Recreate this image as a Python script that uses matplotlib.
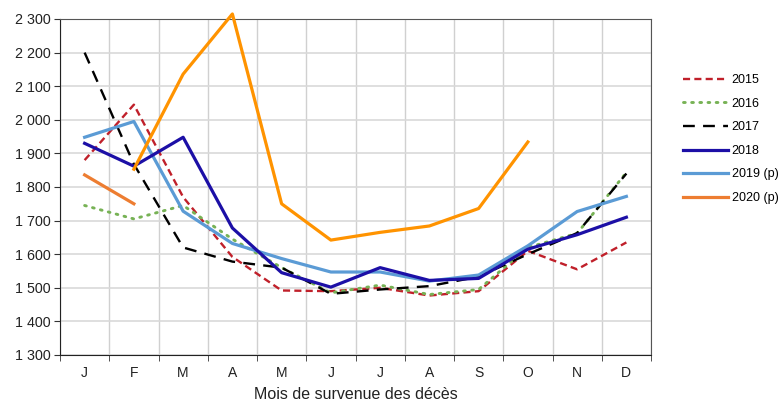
import matplotlib
matplotlib.use("Agg")
import matplotlib.pyplot as plt
import numpy as np

plt.rcParams['font.family'] = ['Liberation Sans', 'DejaVu Sans']

months = ["J", "F", "M", "A", "M", "J", "J", "A", "S", "O", "N", "D"]
y2015 = [1880, 2045, 1770, 1592, 1492, 1490, 1500, 1477, 1490, 1610, 1555, 1635]
y2016 = [1745, 1705, 1745, 1645, 1560, 1485, 1508, 1480, 1495, 1620, 1662, 1843]
y2017 = [2200, 1868, 1620, 1578, 1560, 1482, 1495, 1505, 1533, 1600, 1663, 1840]
y2018 = [1930, 1862, 1948, 1678, 1545, 1502, 1560, 1522, 1528, 1615, 1658, 1710]
y2019 = [1948, 1995, 1728, 1632, 1587, 1547, 1547, 1520, 1538, 1625, 1727, 1772]
y2020 = [1836, 1750]
y2020b_months = ["F", "M", "A", "M", "J", "J", "A", "S", "O"]
y2020b = [1853, 2136, 2315, 1750, 1642, 1665, 1684, 1736, 1934]
yticks = [1300, 1400, 1500, 1600, 1700, 1800, 1900, 2000, 2100, 2200, 2300]
ytick_labels = ["1 300", "1 400", "1 500", "1 600", "1 700", "1 800", "1 900",
                "2 000", "2 100", "2 200", "2 300"]

fig = plt.figure(figsize=(7.82, 4.01), dpi=100)
ax = fig.add_axes([60/782, 1-355/401, (651-60)/782, (355-19)/401])

x = np.arange(len(months))
xb = np.arange(1, 1 + len(y2020b))

ax.plot(x, y2015, color="#c0202a", lw=1.7, ls=(0, (3, 1.8)), label="2015", zorder=3)
ax.plot(x, y2016, color="#77b255", lw=2.1, ls=(0, (0.6, 2.2)), dash_capstyle='round', label="2016", zorder=3)
ax.plot(x, y2017, color="#000000", lw=1.7, ls=(0, (5, 3.5)), label="2017", zorder=3)
ax.plot(x, y2018, color="#1c0fa6", lw=2.3, label="2018", zorder=4)
ax.plot(x, y2019, color="#5b9bd5", lw=2.3, label="2019 (p)", zorder=3)
ax.plot(x[:len(y2020)], y2020, color="#ed7d31", lw=2.3, label="2020 (p)", zorder=4)
ax.plot(xb, y2020b, color="#ff9300", lw=2.3, zorder=4, clip_on=False)

ax.set_xlim(-0.5, 11.5)
ax.set_ylim(1300, 2300)
ax.set_yticks(yticks)
ax.set_yticklabels(ytick_labels, fontsize=10.3, color="#222222")
ax.set_xticks(x)
ax.set_xticklabels(months, fontsize=10, color="#222222")
ax.set_xticks(np.arange(-0.5, 12, 1), minor=True)
ax.tick_params(axis='x', which='major', length=0, pad=8)
ax.tick_params(axis='x', which='minor', length=4, direction='out', color="#333333")
ax.tick_params(axis='y', length=4, direction='out', color="#333333", pad=3)
ax.grid(True, axis='y', color="#d9d9d9", lw=1.2)
ax.grid(True, axis='x', which='minor', color="#d0d0d0", lw=1.0)
ax.set_axisbelow(True)
for s in ['left', 'bottom']:
    ax.spines[s].set_color("#222222")
for s in ['top', 'right']:
    ax.spines[s].set_color("#555555")

ax.set_xlabel("Mois de survenue des décès", fontsize=11.5, color="#222222", labelpad=5)

leg = fig.legend(loc='upper left', bbox_to_anchor=(678/782, 1-69/401), frameon=False,
                 fontsize=9, handlelength=3.6, labelspacing=0.93, handletextpad=0.3,
                 borderaxespad=0)

fig.savefig("out.png", dpi=100)
